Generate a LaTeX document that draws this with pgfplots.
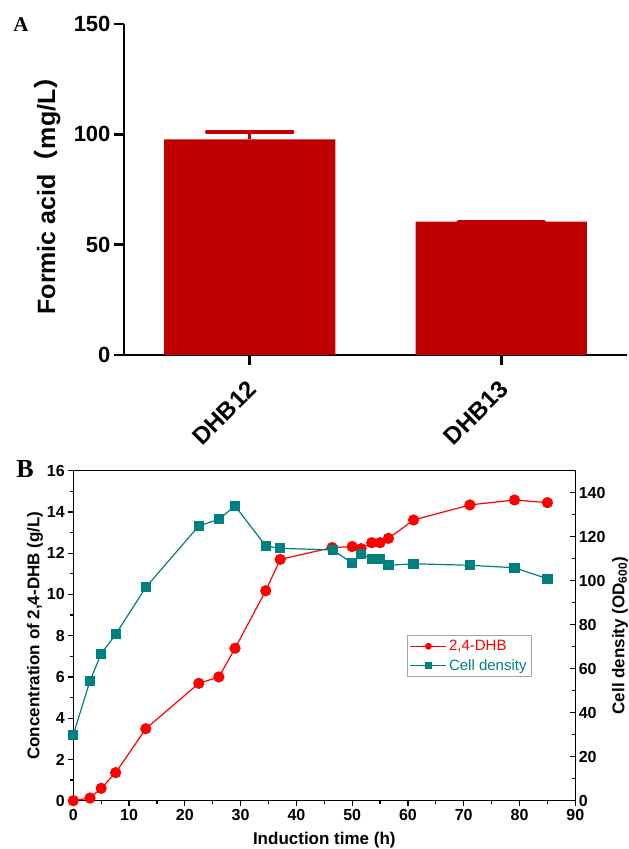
\documentclass[border=0pt]{standalone}
\usepackage{fontspec}
\setmainfont{Liberation Sans}
\newfontfamily\cjk{Noto Sans CJK SC}
\newfontfamily\timesf{Liberation Serif}
\usepackage{pgfplots}
\pgfplotsset{compat=1.18}
\definecolor{barred}{RGB}{192,0,0}
\definecolor{dhbred}{RGB}{255,0,0}
\definecolor{tealc}{RGB}{0,128,128}
\begin{document}
\begin{tikzpicture}
\useasboundingbox (0,0) rectangle (629pt,849pt);
% ---------------- Panel A ----------------
\begin{axis}[
  at={(124pt,494pt)}, anchor=south west, width=503pt, height=331pt, scale only axis,
  xmin=-0.5, xmax=1.5, ymin=0, ymax=150,
  axis x line=bottom, axis y line=left,
  axis line style={-, line width=2.6pt},
  xtick={0,1}, xticklabels={DHB12,DHB13},
  ytick={0,50,100,150},
  tick align=outside, major tick length=10pt,
  tick style={line width=2.6pt, black},
  /pgf/number format/assume math mode=true,
  yticklabel style={font=\fontsize{22}{22}\selectfont\bfseries},
  xticklabel style={font=\fontsize{24}{24}\selectfont\bfseries, rotate=45, anchor=east, yshift=-16pt, xshift=-9pt},
  ylabel={Formic acid{\cjk （}mg/L{\cjk ）}},
  every axis y label/.style={at={(axis description cs:-0.153,0.5)}, rotate=90, anchor=center,
    font=\fontsize{25}{25}\selectfont\bfseries},
]
\addplot[ybar, bar width=0.68, fill=barred, draw=none,
  error bars/.cd, y dir=plus, y explicit, error mark=|,
  error bar style={line width=3pt, barred},
  error mark options={mark size=43pt, line width=3.5pt, barred, line cap=round}]
  coordinates {(0,97.7) +- (0,3.3) (1,60.4) +- (0,0.2)};
\end{axis}
\node[font=\timesf\bfseries\fontsize{21}{21}\selectfont] at (21pt,824pt) {A};
\node[font=\timesf\bfseries\fontsize{26}{26}\selectfont] at (25pt,380pt) {B};
% ---------------- Panel B ----------------
\begin{axis}[
  at={(73.3pt,48.3pt)}, anchor=south west, width=502pt, height=330pt, scale only axis,
  xmin=0, xmax=90, ymin=0, ymax=16,
  xtick={0,10,...,90}, ytick={0,2,...,16},
  minor x tick num=1, minor y tick num=1,
  xtick pos=left, ytick pos=left,
  tick align=outside, major tick length=5pt, minor tick length=3pt,
  axis line style={line width=1.3pt},
  tick style={line width=1.2pt, black},
  /pgf/number format/assume math mode=true,
  ticklabel style={font=\fontsize{16}{16}\selectfont\bfseries},
  xlabel={Induction time (h)}, ylabel={Concentration of 2,4-DHB (g/L)},
  every axis y label/.style={at={(axis description cs:-0.0763,0.5)}, rotate=90, anchor=center,
    font=\fontsize{17}{17}\selectfont\bfseries},
  every axis x label/.style={at={(axis description cs:0.5,-0.119)}, anchor=center,
    font=\fontsize{17}{17}\selectfont\bfseries},
]
\addplot[dhbred, line width=1.2pt, mark=*, mark size=5pt] coordinates {
(0,0) (3,0.13) (5,0.6) (7.6,1.36) (13,3.49) (22.5,5.69) (26.1,6.0) (29,7.39)
(34.5,10.18) (37.1,11.7) (46.4,12.27) (50,12.32) (51.6,12.22) (53.5,12.51)
(55,12.51) (56.5,12.72) (61,13.61) (71.1,14.34) (79.1,14.58) (85,14.45)};
\end{axis}
\begin{axis}[
  at={(73.3pt,48.3pt)}, anchor=south west, width=502pt, height=330pt, scale only axis,
  xmin=0, xmax=90, ymin=0, ymax=150,
  axis x line=none, axis y line*=right,
  axis line style={-, line width=1.3pt},
  ytick={0,20,...,140}, minor y tick num=1,
  tick align=inside, major tick length=5pt, minor tick length=3pt,
  tick style={line width=1.2pt, black},
  /pgf/number format/assume math mode=true,
  ticklabel style={font=\fontsize{16}{16}\selectfont\bfseries},
  ylabel={Cell density (OD\textsubscript{600})},
  every axis y label/.style={at={(axis description cs:1.089,0.5)}, rotate=90, anchor=center,
    font=\fontsize{17}{17}\selectfont\bfseries},
  legend style={at={(axis description cs:0.664,0.502)}, anchor=north west,
    draw=gray!70, font=\fontsize{15}{15}\selectfont, row sep=3pt, inner sep=3pt},
  legend cell align=left,
  legend image code/.code={\draw[mark repeat=2,mark phase=2] plot coordinates {(0pt,0pt) (18pt,0pt) (36pt,0pt)};},
  legend image post style={mark size=2.8pt},
]
\addlegendimage{dhbred, line width=1.2pt, mark=*}
\addlegendentry{\textcolor{dhbred}{2,4-DHB}}
\addplot[tealc, line width=1.2pt, mark=square*, mark size=4.5pt] coordinates {
(0,30) (3,54.5) (5,66.8) (7.6,75.6) (13,97) (22.5,124.9) (26.1,127.9) (29,134)
(34.5,115.8) (37.1,114.7) (46.5,114) (50,107.9) (51.6,112) (53.5,110) (55,110)
(56.5,107) (61,107.7) (71.1,107) (79.1,105.9) (85,100.9)};
\addlegendentry{\textcolor{tealc}{Cell density}}
\end{axis}
\end{tikzpicture}
\end{document}
